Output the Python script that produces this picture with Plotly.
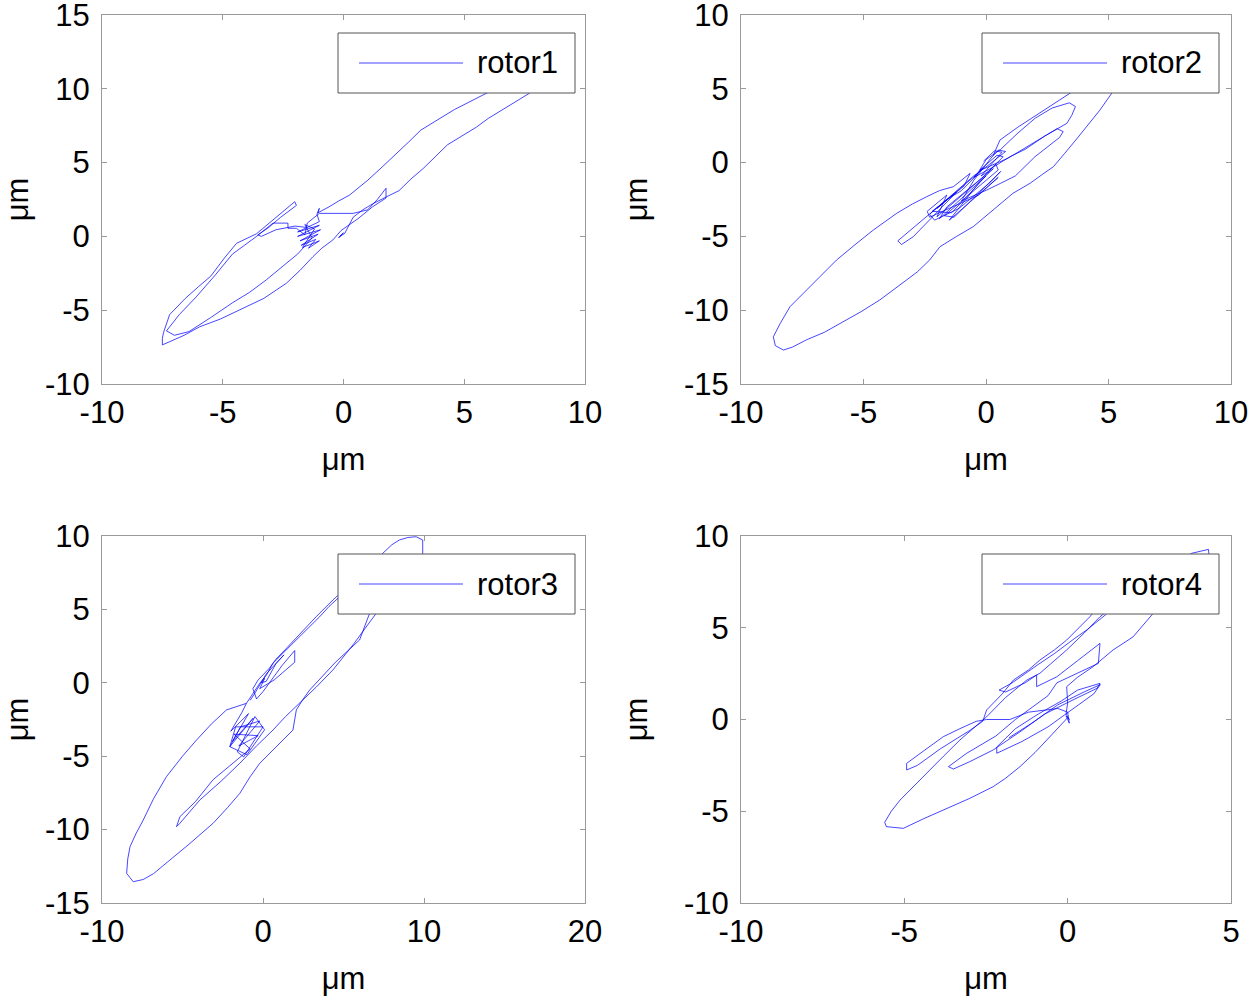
import plotly.graph_objects as go

# ---------------- data (micrometres) ----------------
rotor1_orbit = [
    (-0.1, 0.1), (-0.2, -0.1), (0.0, 0.25), (-0.15, 0.0), (0.05, 0.2),
    (0.4, 1.3), (0.8, 1.8), (1.2, 2.2), (1.8, 2.7), (2.3, 3.1), (2.8, 3.9), (3.3, 4.6),
    (3.8, 5.4), (4.3, 6.2), (4.9, 6.8), (5.5, 7.4), (6.0, 8.0), (6.5, 8.5), (7.1, 9.1),
    (7.7, 9.7), (8.3, 10.5), (8.7, 11.1), (8.5, 11.4), (7.9, 11.0), (7.0, 10.4),
    (6.4, 10.1), (5.9, 9.7), (5.2, 9.1), (4.6, 8.6), (3.9, 7.9), (3.2, 7.2), (2.7, 6.4),
    (2.2, 5.6), (1.6, 4.7), (1.0, 3.8), (0.6, 3.3), (0.25, 2.8), (-0.2, 2.4), (-0.6, 2.0),
    (-1.06, 1.6), (-1.0, 1.9), (-1.1, 1.5),
    (-1.0, 1.0), (-1.9, 0.3), (-1.0, 0.75), (-1.9, 0.0), (-0.95, 0.45), (-1.8, -0.3),
    (-1.05, 0.15), (-1.75, -0.6), (-1.15, -0.2), (-1.45, -0.8), (-1.0, -0.3),
    (-1.7, -0.75), (-1.2, 0.5), (-1.6, 0.8), (-1.3, -0.1),
    (-1.9, -1.2), (-2.5, -2.0), (-3.2, -2.95), (-3.9, -3.8), (-4.6, -4.5), (-5.5, -5.5),
    (-6.4, -6.45), (-7.0, -6.7), (-7.33, -6.4),
    (-6.8, -5.3), (-6.1, -4.1), (-5.3, -2.6), (-4.6, -1.2), (-4.1, -0.6), (-3.6, 0.0),
    (-2.92, 0.9), (-2.3, 0.9), (-2.3, 0.55), (-1.95, 0.55), (-1.6, 0.1), (-1.5, 0.9),
    (-1.0, 1.56), (0.4, 1.56), (1.0, 1.8), (1.4, 2.5), (1.76, 3.26), (1.76, 2.6),
    (1.2, 2.0), (0.6, 1.2), (-0.1, 0.4), (-0.44, -0.24), (-0.9, -0.8), (-1.27, -1.38),
    (-1.8, -2.3), (-2.37, -3.18), (-3.3, -4.2), (-4.3, -5.0), (-5.1, -5.6), (-5.95, -6.12),
    (-6.6, -6.7), (-7.19, -7.13), (-7.5, -7.35), (-7.5, -6.9), (-7.45, -6.5), (-7.2, -5.3),
    (-6.55, -4.2), (-6.0, -3.4), (-5.5, -2.7), (-4.9, -1.4), (-4.43, -0.47), (-3.6, 0.18),
    (-3.0, 1.0), (-2.5, 1.7), (-2.02, 2.35), (-1.95, 2.1), (-2.6, 1.3), (-3.1, 0.6),
    (-3.55, 0.1), (-3.4, 0.0), (-2.8, 0.45), (-2.0, 0.7), (-1.5, 0.6),
]

rotor2_orbit = [
    (0.3, 0.5), (0.57, 1.53), (1.3, 2.4), (2.2, 3.36), (2.8, 4.0), (3.43, 4.7), (4.0, 5.5),
    (4.5, 6.2), (5.1, 6.5), (5.6, 6.0), (5.5, 5.3), (5.14, 4.72), (4.65, 3.56), (4.2, 2.6),
    (3.7, 1.6), (3.2, 0.6), (2.75, -0.28), (2.3, -0.8), (1.8, -1.4), (1.1, -2.08),
    (0.44, -2.99), (-0.1, -3.7), (-0.52, -4.34), (-1.2, -5.0), (-1.88, -5.7), (-2.3, -6.6),
    (-2.8, -7.4), (-3.24, -7.95), (-4.33, -9.3), (-5.1, -10.1), (-5.96, -10.9),
    (-6.6, -11.5), (-7.32, -12.0), (-7.9, -12.5), (-8.27, -12.7), (-8.6, -12.4),
    (-8.68, -11.8), (-8.4, -10.9), (-8.0, -9.76), (-7.0, -8.1), (-6.1, -6.6), (-5.3, -5.5),
    (-4.6, -4.57), (-3.64, -3.43), (-3.0, -2.8), (-2.42, -2.31), (-1.9, -1.9),
    (-1.33, -1.63), (-0.65, -0.73),
    (-0.9, -1.6), (-2.2, -3.3), (-1.4, -3.4), (0.0, -0.9), (-1.9, -3.8), (-1.6, -3.0),
    (0.3, -0.4), (-0.2, -1.2), (-1.5, -3.9), (0.5, -1.0), (-0.3, -2.2), (-2.3, -3.7),
    (-2.4, -3.3), (-1.6, -2.2), (-2.0, -3.67),
    (-0.2, -1.1), (0.4, -0.1), (0.5, -0.5), (-1.7, -3.6), (-1.3, -3.7), (0.6, -0.6),
    (0.2, -1.3), (-1.1, -3.1), (-2.1, -3.9), (-2.3, -3.5), (-0.5, -0.9), (-0.1, -0.4),
    (-2.0, -3.1), (-1.2, -2.0),
    (-2.97, -5.02), (-3.45, -5.55), (-3.6, -5.3), (-2.9, -4.3), (-2.29, -3.43),
    (-1.6, -2.5), (-1.0, -1.9),
    (-0.4, -0.9), (0.0, 0.2), (0.6, 0.9), (1.3, 2.0), (2.0, 3.0), (2.7, 3.7), (3.4, 4.05),
    (3.65, 3.8), (3.5, 3.2), (3.3, 2.66), (2.4, 1.8), (1.6, 0.9), (0.98, 0.4), (0.3, -0.3),
    (-0.5, -1.0),
    (-0.2, -0.5), (0.9, 0.3), (1.8, 1.2), (2.5, 1.9), (2.9, 2.3), (3.15, 2.1), (3.0, 1.7),
    (2.0, 0.4), (1.2, -0.9), (0.6, -1.4), (0.03, -1.86), (-1.0, -2.6),
    (-0.5, -1.2), (0.2, 0.3), (0.5, 0.85), (0.8, 0.75), (0.0, -0.3), (-0.25, -0.5),
    (0.45, 0.5), (0.7, 0.4), (0.1, -0.6), (-0.2, -0.9), (0.3, 0.0), (0.65, 0.7),
    (0.35, 0.8), (-0.1, 0.1),
]

rotor3_orbit = [
    (-1.03, -1.4), (-0.6, -0.7), (-0.2, -0.03), (0.2, 0.5), (0.62, 1.33), (1.5, 2.3),
    (2.28, 3.14), (2.9, 3.8), (3.52, 4.5), (4.1, 5.2), (4.76, 5.86), (5.6, 6.9), (6.5, 7.9),
    (7.44, 8.82), (8.0, 9.4), (8.47, 9.73), (9.0, 9.9), (9.51, 9.95), (9.92, 9.73),
    (9.92, 8.82), (9.9, 7.5), (8.5, 6.2), (7.2, 5.2), (6.62, 4.73), (6.3, 3.8), (6.0, 2.92),
    (4.5, 1.4), (2.9, -0.49), (2.5, -1.1), (2.07, -1.85), (1.86, -3.22), (0.9, -4.3),
    (-0.2, -5.48), (-0.8, -6.4), (-1.44, -7.53), (-2.2, -8.5), (-3.1, -9.57), (-4.6, -11.0),
    (-6.0, -12.3), (-6.8, -13.0), (-7.44, -13.4), (-8.06, -13.55), (-8.47, -12.98),
    (-8.4, -12.0), (-8.26, -11.17), (-7.9, -10.3), (-7.44, -9.35), (-6.8, -7.9),
    (-6.0, -6.4), (-5.0, -5.0), (-4.13, -3.9), (-3.2, -2.8), (-2.27, -1.85), (-1.6, -1.6),
    (-1.03, -1.4),
    (-1.3, -2.0), (-2.0, -3.3), (-0.9, -2.1), (-1.9, -4.0), (-0.6, -2.4), (-2.06, -4.35),
    (-1.0, -4.9), (0.1, -3.2), (-0.5, -2.3), (-1.6, -4.7), (-1.2, -5.05), (0.0, -3.0),
    (-1.7, -3.0), (-2.06, -4.35), (-1.4, -3.0), (-0.2, -2.6), (-1.5, -4.3), (-0.3, -3.6),
    (-1.8, -3.5), (-0.8, -4.5),
    (-3.1, -6.6), (-4.2, -8.1), (-5.16, -9.12), (-5.37, -9.8), (-5.16, -9.57),
    (-3.92, -7.98), (-2.6, -6.7), (-1.44, -5.48), (-0.4, -4.3), (0.62, -3.22), (1.4, -2.3),
    (2.28, -1.4), (3.3, -0.3), (4.34, 0.87), (5.6, 2.6), (7.03, 4.73), (7.6, 6.0),
    (7.2, 6.8), (6.3, 7.0), (5.3, 6.6), (4.34, 5.64), (3.3, 4.5), (2.3, 3.3), (1.5, 2.4),
    (0.8, 1.6),
    (0.4, 1.0), (-0.3, 0.2), (-0.63, -0.4), (-0.4, -1.1), (0.0, -0.6), (1.2, 1.2),
    (1.97, 2.2), (1.97, 1.4), (0.7, 0.2), (-0.2, -0.4), (0.1, 0.3), (-0.1, 0.0), (0.2, 0.1),
    (0.8, 1.3), (1.3, 1.9), (0.2, 0.6), (-0.5, -0.7), (-0.8, -1.2),
]

rotor4_orbit = [
    (0.0, 0.1), (-0.3, -0.5), (-0.64, -1.12), (-1.0, -1.8), (-1.46, -2.57), (-1.9, -3.2),
    (-2.28, -3.66), (-3.0, -4.3), (-3.81, -4.93), (-4.4, -5.4), (-5.03, -5.93),
    (-5.55, -5.84), (-5.6, -5.6), (-5.4, -5.0), (-5.13, -4.39), (-4.7, -3.6), (-4.32, -2.93),
    (-3.8, -2.0), (-3.3, -1.12), (-2.9, -0.5), (-2.48, 0.15), (-1.9, 1.2), (-1.25, 2.15),
    (-0.85, 2.52), (-0.4, 3.2), (-0.03, 3.79), (0.5, 4.7), (0.99, 5.6), (2.2, 7.3),
    (3.4, 8.6), (3.8, 9.06), (4.31, 9.27), (4.35, 8.5), (3.6, 7.4), (2.62, 5.79),
    (2.0, 4.5), (1.39, 3.79), (0.78, 2.88), (0.3, 2.3), (-0.03, 1.79), (0.0, 0.9),
    (-0.05, 0.3), (0.05, 0.0), (-0.05, 0.2), (0.05, -0.2), (0.0, 0.4),
    (-0.3, 0.6), (-1.2, 0.4), (-1.77, 0.0), (-2.48, 0.0), (-2.8, -0.1), (-3.3, -0.5),
    (-3.81, -0.94), (-4.4, -1.7), (-4.93, -2.39), (-4.93, -2.75), (-4.6, -2.5),
    (-3.9, -1.6), (-3.0, -0.6), (-2.6, -0.1), (-2.48, 0.52), (-2.0, 1.4), (-1.66, 2.15),
    (-1.2, 2.7), (-0.85, 3.24), (-0.4, 3.8), (-0.03, 4.33), (0.68, 5.6), (1.0, 6.3),
    (1.19, 5.75), (0.6, 4.9), (0.2, 4.4), (-0.4, 3.6), (-0.9, 3.0), (-1.7, 2.0),
    (-2.1, 1.6), (-1.9, 1.5), (-1.3, 2.0), (-0.95, 2.42), (-0.95, 1.79), (-0.33, 2.33),
    (0.3, 3.2), (0.99, 4.15), (0.94, 3.06), (0.4, 2.6), (-0.33, 2.0),
    (-0.6, 1.3), (-1.6, 0.0), (-2.2, -0.9), (-3.09, -1.84), (-3.65, -2.57), (-3.5, -2.7),
    (-3.0, -2.3), (-2.28, -1.66), (-1.4, -0.6), (-0.7, 0.3), (0.2, 1.1), (0.9, 1.7),
    (0.99, 1.97), (0.3, 1.6), (-0.2, 1.0), (-0.9, 0.3), (-1.6, -0.5), (-2.17, -1.5),
    (-2.17, -1.84), (-1.4, -1.2), (-0.6, -0.4), (0.2, 0.6), (0.8, 1.4), (1.0, 1.9),
    (0.5, 1.5), (-0.3, 0.8), (-1.1, -0.2), (-1.8, -1.0),
]

rotor_names = ["rotor1", "rotor2", "rotor3", "rotor4"]
x_ranges = [(-10, 10), (-10, 10), (-10, 20), (-10, 5)]
y_ranges = [(-10, 15), (-15, 10), (-15, 10), (-10, 10)]
x_ticks = [[-10, -5, 0, 5, 10], [-10, -5, 0, 5, 10], [-10, 0, 10, 20], [-10, -5, 0, 5]]
y_ticks = [[-10, -5, 0, 5, 10, 15], [-15, -10, -5, 0, 5, 10],
           [-15, -10, -5, 0, 5, 10], [-10, -5, 0, 5, 10]]
axis_label = "μm"

# ---------------- layout helpers ----------------
W, H = 1250, 1000
FONT = "Liberation Sans, Arial, Helvetica, sans-serif"
FSIZE = 31
LINE_COLOR = "rgba(0,0,255,0.72)"
AX_COLOR = "#9a9a9a"

# plot-area boxes in pixels: (left, right, top, bottom)
boxes = [(102, 585, 15, 384), (741, 1231, 15, 384),
         (102, 585, 536, 903), (741, 1231, 536, 903)]
# legend boxes in pixels: (left, right, top, bottom)
legend_boxes = [(338, 575, 33, 93), (982, 1219, 33, 93),
                (338, 575, 554, 614), (982, 1219, 554, 614)]

def px(xp):
    return xp / W

def py(yp):
    return 1 - yp / H

def labels(vals):
    return [str(v) for v in vals]  # plain hyphen-minus like the reference

fig = go.Figure()
orbits = [rotor1_orbit, rotor2_orbit, rotor3_orbit, rotor4_orbit]
shapes = []
annotations = []
for i, (orb, name) in enumerate(zip(orbits, rotor_names)):
    n = "" if i == 0 else str(i + 1)
    xs = [p[0] for p in orb]
    ys = [p[1] for p in orb]
    fig.add_trace(go.Scatter(x=xs, y=ys, mode="lines", name=name,
                             line=dict(color=LINE_COLOR, width=1),
                             xaxis="x" + n, yaxis="y" + n, showlegend=False,
                             hoverinfo="skip"))
    l, r, t, b = boxes[i]
    tfont = dict(family=FONT, size=FSIZE, color="black")
    common = dict(showline=True, linecolor=AX_COLOR, linewidth=1, mirror="ticks",
                  ticks="inside", ticklen=5, tickcolor=AX_COLOR, showgrid=False,
                  zeroline=False, automargin=False, ticklabeloverflow="allow",
                  tickfont=tfont)
    xa = dict(common, domain=[px(l), px(r)], range=list(x_ranges[i]),
              tickmode="array", tickvals=x_ticks[i], ticktext=labels(x_ticks[i]),
              anchor="y" + n, ticklabelstandoff=1,
              title=dict(text=axis_label, font=tfont, standoff=19))
    ya = dict(common, domain=[py(b), py(t)], range=list(y_ranges[i]),
              tickmode="array", tickvals=y_ticks[i], ticktext=labels(y_ticks[i]),
              anchor="x" + n, ticklabelstandoff=5,
              title=dict(text=axis_label, font=tfont, standoff=27))
    fig.layout["xaxis" + n] = xa
    fig.layout["yaxis" + n] = ya

    # legend box drawn like the reference (white box, long line sample, text)
    ll, lr, lt, lb = legend_boxes[i]
    shapes.append(dict(type="rect", xref="paper", yref="paper", x0=px(ll), x1=px(lr),
                       y0=py(lb), y1=py(lt), fillcolor="white",
                       line=dict(color="#555555", width=1), layer="above"))
    ym = (lt + lb) / 2
    shapes.append(dict(type="line", xref="paper", yref="paper", x0=px(ll + 21),
                       x1=px(ll + 125), y0=py(ym), y1=py(ym),
                       line=dict(color=LINE_COLOR, width=1), layer="above"))
    annotations.append(dict(xref="paper", yref="paper", x=px(ll + 137), y=py(ym),
                            xanchor="left", yanchor="middle", text=name, showarrow=False,
                            font=tfont))

fig.update_layout(width=W, height=H, margin=dict(l=0, r=0, t=0, b=0),
                  paper_bgcolor="white", plot_bgcolor="white", showlegend=False,
                  shapes=shapes, annotations=annotations,
                  font=dict(family=FONT, size=FSIZE, color="black"))
fig.write_html("out.html", config={"displayModeBar": False},
               post_script="document.body.style.margin='0';document.body.style.padding='0';")
